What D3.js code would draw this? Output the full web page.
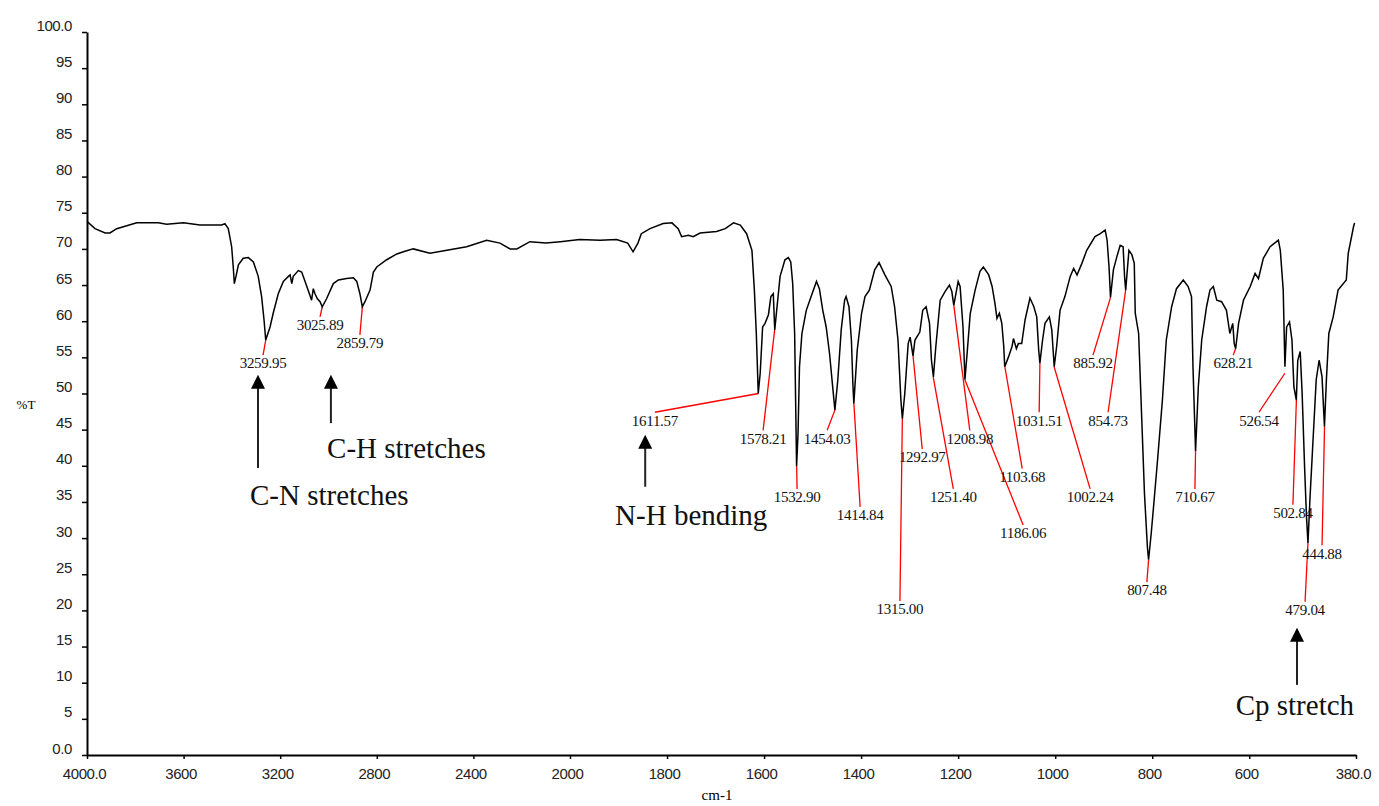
<!DOCTYPE html>
<html>
<head>
<meta charset="utf-8">
<script src="https://cdn.jsdelivr.net/npm/d3@7"></script>
<style>
  html, body { margin: 0; padding: 0; background: #fff; }
  svg { display: block; }
</style>
</head>
<body>
<div id="chart"></div>
<script>
// --------------- Data ---------------
// IR spectrum, wavenumber (cm-1) vs %T
const wavenumbers = [
  4000, 3967, 3925, 3905, 3877, 3794, 3705, 3670, 3601, 3532, 3442, 3429, 3415, 3401, 3394, 3390,
  3383, 3373, 3353, 3332, 3311, 3291, 3277, 3267, 3260, 3242, 3229, 3208, 3187, 3166, 3159, 3152,
  3146, 3125, 3111, 3097, 3077, 3070, 3063, 3056, 3046, 3035, 3026, 3008, 2980, 2959, 2925, 2897,
  2883, 2870, 2860, 2849, 2828, 2814, 2800, 2759, 2717, 2690, 2649, 2580, 2510, 2428, 2345, 2290,
  2248, 2220, 2166, 2100, 2040, 1980, 1938, 1904, 1881, 1870, 1860, 1853, 1835, 1808, 1790, 1777,
  1770, 1756, 1746, 1732, 1698, 1680, 1663, 1649, 1636, 1625, 1620, 1616, 1612, 1608, 1603, 1598,
  1591, 1586, 1581, 1578, 1574, 1567, 1557, 1550, 1545, 1541, 1537, 1535, 1533, 1530, 1527, 1522,
  1513, 1503, 1492, 1486, 1479, 1472, 1465, 1458, 1454, 1448, 1441, 1434, 1431, 1425, 1420, 1417,
  1415, 1408, 1399, 1392, 1383, 1372, 1363, 1351, 1338, 1331, 1324, 1318, 1315, 1310, 1303, 1299,
  1293, 1289, 1279, 1273, 1266, 1259, 1255, 1251, 1246, 1237, 1227, 1218, 1213, 1209, 1200, 1196,
  1190, 1186, 1181, 1175, 1165, 1155, 1148, 1137, 1130, 1124, 1120, 1115, 1110, 1106, 1104, 1096,
  1089, 1086, 1080, 1076, 1069, 1062, 1052, 1044, 1038, 1034, 1031.5, 1026, 1021, 1012, 1007, 1002,
  997, 990, 980, 969, 962, 955, 945, 935, 918, 907, 897, 893, 889, 886, 880, 873,
  866, 860, 857, 854.7, 848, 842, 837, 835, 828, 821, 816, 810, 807.5, 802, 796, 789,
  779, 771, 760, 750, 736, 726, 719, 716, 712, 710.7, 705, 698, 688, 681, 674, 667,
  657, 647, 640, 634, 631, 628, 622, 612, 598, 588, 581, 571, 557, 540, 536, 530,
  526.5, 523, 517, 512, 508, 503, 500, 495, 491, 486, 482, 479, 475, 470, 462, 456,
  450, 445, 441, 436, 427, 417, 400, 396, 385, 383
];
const transmittance = [
  73.8, 72.8, 72.2, 72.2, 72.8, 73.6, 73.6, 73.4, 73.6, 73.3, 73.3, 73.5, 72.8, 70.3, 67.3, 65.2,
  66.2, 67.8, 68.7, 68.8, 68.2, 66.2, 63.4, 60.2, 57.4, 59.2, 61.1, 63.8, 65.5, 66.2, 66.4, 65.2,
  66.2, 67.0, 66.8, 65.5, 63.6, 62.9, 64.5, 63.8, 63.1, 62.7, 62.0, 63.1, 65.2, 65.7, 65.9, 66.0,
  65.5, 63.8, 62.0, 62.7, 64.3, 66.8, 67.5, 68.5, 69.3, 69.6, 70.0, 69.4, 69.8, 70.3, 71.2, 70.8,
  70.0, 70.0, 71.0, 70.8, 71.0, 71.3, 71.2, 71.3, 70.8, 69.6, 70.8, 72.1, 72.8, 73.5, 73.6, 72.8,
  71.7, 71.9, 71.7, 72.2, 72.4, 72.8, 73.6, 73.3, 72.1, 69.8, 64.3, 58.3, 50.0, 52.8, 59.2, 59.7,
  60.9, 63.4, 63.8, 58.8, 61.5, 66.2, 68.5, 68.8, 68.2, 65.2, 58.3, 49.1, 39.9, 44.5, 53.7, 58.3,
  61.5, 63.4, 65.5, 64.5, 61.5, 59.2, 55.5, 50.5, 47.7, 51.9, 58.8, 62.9, 63.4, 62.0, 57.4, 51.4,
  48.6, 56.0, 61.1, 63.4, 64.3, 67.1, 68.1, 66.4, 64.8, 62.0, 57.4, 49.1, 46.5, 50.0, 56.9, 57.8,
  55.2, 57.4, 58.5, 61.5, 62.0, 59.7, 54.6, 52.3, 56.5, 62.9, 64.1, 65.0, 64.1, 62.2, 65.5, 64.8,
  59.2, 51.9, 56.0, 61.1, 64.3, 66.9, 67.5, 66.4, 64.8, 62.4, 60.4, 61.1, 59.7, 56.5, 53.7, 55.1,
  56.5, 57.6, 56.2, 56.9, 56.9, 60.2, 63.2, 62.0, 60.6, 56.0, 54.2, 57.4, 59.7, 60.6, 58.8, 53.7,
  56.5, 61.5, 63.4, 66.2, 67.3, 66.4, 68.0, 69.8, 71.7, 72.1, 72.6, 71.2, 67.5, 63.3, 67.1, 68.9,
  70.5, 70.3, 66.2, 64.3, 69.8, 69.2, 68.0, 61.1, 58.3, 45.4, 36.2, 28.8, 27.0, 30.7, 35.3, 40.8,
  49.1, 57.4, 62.0, 64.5, 65.7, 64.8, 63.4, 53.7, 45.0, 42.0, 50.9, 57.4, 62.0, 64.3, 64.8, 62.9,
  62.7, 61.5, 58.3, 59.7, 56.9, 56.2, 59.7, 62.9, 64.8, 66.6, 65.9, 68.7, 70.3, 71.2, 69.8, 64.3,
  53.7, 59.2, 59.9, 57.4, 50.9, 49.1, 54.6, 55.8, 50.0, 39.9, 32.9, 29.3, 35.3, 41.7, 51.9, 54.6,
  52.3, 45.4, 51.9, 58.3, 60.6, 64.3, 65.7, 69.4, 73.1, 73.6
];

// peak picks: label, where the red leader starts, where the label sits
const peakLabels = [
  "3259.95", "3025.89", "2859.79", "1611.57", "1578.21", "1532.90", "1454.03", "1414.84", "1315.00",
  "1292.97", "1251.40", "1208.98", "1186.06", "1103.68", "1031.51", "1002.24", "885.92", "854.73",
  "807.48", "710.67", "628.21", "526.54", "502.84", "479.04", "444.88"
];
const peakWn = [
  3259.95, 3025.89, 2859.79, 1611.57, 1578.21, 1532.90, 1454.03, 1414.84, 1315.00,
  1292.97, 1251.40, 1208.98, 1186.06, 1103.68, 1031.51, 1002.24, 885.92, 854.73,
  807.48, 710.67, 628.21, 526.54, 502.84, 479.04, 444.88
];
const peakT = [
  57.4, 62.0, 62.0, 50.0, 58.8, 39.9, 47.7, 48.6, 46.5,
  55.2, 52.3, 62.2, 51.9, 53.7, 54.2, 53.7, 63.3, 64.3,
  27.0, 42.0, 56.2, 52.8, 49.1, 29.3, 45.4
];
const labelWn = [
  3271, 3035, 2870, 1825, 1602, 1532, 1470, 1402, 1320,
  1274, 1210, 1176, 1066, 1068, 1033, 928, 922, 891,
  811, 712, 633, 580, 510, 485, 450
];
const labelT = [
  54.2, 59.5, 57.0, 46.3, 43.8, 35.7, 43.8, 33.2, 20.2,
  41.2, 35.7, 43.8, 30.7, 38.5, 46.3, 35.7, 54.2, 46.3,
  22.8, 35.7, 54.2, 46.3, 33.5, 20.1, 27.9
];

// band assignments with arrows
const noteText = ["C-N stretches", "C-H stretches", "N-H bending", "Cp stretch"];
const noteArrowWn = [3292, 2990, 1845, 501.6];
const noteTipT = [52.6, 52.6, 44.3, 17.6];
const noteTailT = [39.7, 45.9, 37.1, 9.7];
const noteTextWn = [3325, 3006, 1907, 628];
const noteTextT = [34.6, 41.1, 31.8, 5.5];

const xTicks = [4000, 3600, 3200, 2800, 2400, 2000, 1800, 1600, 1400, 1200, 1000, 800, 600, 380];
const yTicks = d3.range(0, 101, 5);

// --------------- Constants ---------------
const WIDTH = 1379;
const HEIGHT = 806;
const AXIS_FONT = "'Liberation Sans', Arial, sans-serif";
const SERIF_FONT = "'Liberation Serif', 'Times New Roman', serif";
const PEAK_COLOR = "#ff0000";

const svg = d3
  .select("#chart")
  .append("svg")
  .attr("width", WIDTH)
  .attr("height", HEIGHT)
  .style("background", "#fff");

// x axis is two linear pieces: 4000-2000 compressed, 2000-380 expanded
const x = d3.scaleLinear().domain([4000, 2000, 380]).range([87, 570, 1356]);
const y = d3.scaleLinear().domain([0, 100]).range([755, 32]);

function renderAxes() {
  const yAxis = d3
    .axisLeft(y)
    .tickValues(yTicks)
    .tickFormat((d) => (d === 0 || d === 100 ? d.toFixed(1) : d))
    .tickSize(5)
    .tickSizeOuter(0)
    .tickPadding(10);

  const gy = svg.append("g").attr("transform", `translate(${x(4000)},0)`).call(yAxis);
  gy.selectAll("text")
    .attr("dy", "-2px")
    .style("font-family", AXIS_FONT)
    .style("font-size", "15px")
    .style("letter-spacing", "-0.4px")
    .attr("fill", "#222");

  const xAxis = d3
    .axisBottom(x)
    .tickValues(xTicks)
    .tickFormat((d) => (d === 4000 || d === 380 ? d.toFixed(1) : d))
    .tickSize(4)
    .tickSizeOuter(0)
    .tickPadding(9);

  const gx = svg.append("g").attr("transform", `translate(0,${y(0)})`).call(xAxis);
  gx.selectAll("text")
    .attr("dx", "-3px")
    .style("font-family", AXIS_FONT)
    .style("font-size", "15px")
    .style("letter-spacing", "-0.4px")
    .attr("fill", "#222");

  svg.selectAll(".domain").attr("stroke", "#000").attr("stroke-width", 2);
  svg.selectAll(".tick line").attr("stroke", "#000").attr("stroke-width", 1.5);

  svg.append("text")
    .attr("x", 26)
    .attr("y", 404)
    .attr("text-anchor", "middle")
    .attr("dy", "0.35em")
    .style("font-family", SERIF_FONT)
    .style("font-size", "13px")
    .text("%T");

  svg.append("text")
    .attr("x", 717)
    .attr("y", 795)
    .attr("text-anchor", "middle")
    .attr("dy", "0.35em")
    .style("font-family", SERIF_FONT)
    .style("font-size", "15px")
    .text("cm-1");
}

function renderPeakLabels() {
  const peaks = peakLabels.map((label, i) => ({
    label,
    wn: peakWn[i],
    t: peakT[i],
    lx: labelWn[i],
    lt: labelT[i],
  }));

  const g = svg.append("g");
  g.selectAll("line")
    .data(peaks)
    .enter()
    .append("line")
    .attr("x1", (d) => x(d.wn))
    .attr("y1", (d) => y(d.t))
    .attr("x2", (d) => x(d.lx))
    .attr("y2", (d) => y(d.lt) - 8)
    .attr("stroke", PEAK_COLOR)
    .attr("stroke-width", 1.3);

  g.selectAll("text")
    .data(peaks)
    .enter()
    .append("text")
    .attr("x", (d) => x(d.lx))
    .attr("y", (d) => y(d.lt))
    .attr("dy", "0.35em")
    .attr("text-anchor", "middle")
    .style("font-family", SERIF_FONT)
    .style("font-size", "15px")
    .style("letter-spacing", "-0.3px")
    .attr("fill", "#111")
    .text((d) => d.label);
}

function renderSpectrum() {
  const points = wavenumbers.map((wn, i) => [wn, transmittance[i]]);
  const line = d3
    .line()
    .x((d) => x(d[0]))
    .y((d) => y(d[1]));

  svg.append("path")
    .datum(points)
    .attr("d", line)
    .attr("fill", "none")
    .attr("stroke", "#000")
    .attr("stroke-width", 1.5)
    .attr("stroke-linejoin", "miter");
}

function renderNotes() {
  const notes = noteText.map((text, i) => ({
    text,
    ax: noteArrowWn[i],
    tip: noteTipT[i],
    tail: noteTailT[i],
    tx: noteTextWn[i],
    tt: noteTextT[i],
  }));
  const HEAD_LEN = 14;
  const HEAD_HALF = 7;

  const g = svg.append("g");
  const arrows = g.selectAll("g.note").data(notes).enter().append("g");

  arrows.append("line")
    .attr("x1", (d) => x(d.ax))
    .attr("x2", (d) => x(d.ax))
    .attr("y1", (d) => y(d.tail))
    .attr("y2", (d) => y(d.tip) + HEAD_LEN - 1)
    .attr("stroke", "#222")
    .attr("stroke-width", 2);

  arrows.append("path")
    .attr("d", (d) => {
      const cx = x(d.ax);
      const ty = y(d.tip);
      return `M${cx},${ty}L${cx + HEAD_HALF},${ty + HEAD_LEN}L${cx - HEAD_HALF},${ty + HEAD_LEN}Z`;
    })
    .attr("fill", "#000");

  arrows.append("text")
    .attr("x", (d) => x(d.tx))
    .attr("y", (d) => y(d.tt))
    .style("font-family", SERIF_FONT)
    .style("font-size", "29px")
    .attr("fill", "#111")
    .text((d) => d.text);
}

renderAxes();
renderPeakLabels();
renderSpectrum();
renderNotes();
</script>
</body>
</html>
